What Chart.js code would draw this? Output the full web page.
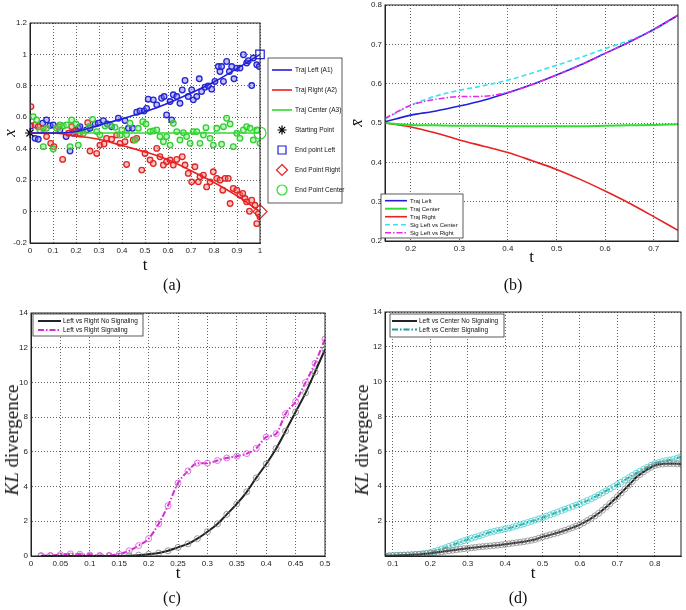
<!DOCTYPE html>
<html>
<head>
<meta charset="utf-8">
<script src="https://cdn.jsdelivr.net/npm/chart.js"></script>
<style>
  html, body { margin: 0; padding: 0; background: #fff; }
  body { width: 686px; height: 610px; position: relative; overflow: hidden; font-family: 'Liberation Serif', 'DejaVu Serif', serif; color: #111; }
  canvas { position: absolute; }
  .cap { position: absolute; font-size: 16px; transform: translate(-50%, -50%); white-space: nowrap; }
  .ylab { position: absolute; font-size: 19px; transform: translate(-50%, -50%) rotate(-90deg); white-space: nowrap; }
</style>
</head>
<body>
<canvas id="chartA" width="346" height="300" style="left:0;top:0"></canvas>
<canvas id="chartB" width="340" height="310" style="left:346px;top:-10px"></canvas>
<canvas id="chartC" width="343" height="310" style="left:0;top:300px"></canvas>
<canvas id="chartD" width="343" height="310" style="left:343px;top:300px"></canvas>
<div class="cap" style="left:172px;top:285px">(a)</div>
<div class="cap" style="left:513px;top:285px">(b)</div>
<div class="cap" style="left:172px;top:598px">(c)</div>
<div class="cap" style="left:518px;top:598px">(d)</div>
<div class="ylab" style="left:12px;top:440px"><i>KL</i> divergence</div>
<div class="ylab" style="left:362px;top:440px"><i>KL</i> divergence</div>
<script>
// ---- panel (a): noisy samples + trajectories
const aBlueT = [0.004,0.022,0.036,0.055,0.072,0.087,0.101,0.130,0.157,0.174,0.188,0.210,0.217,0.246,0.261,0.283,0.297,0.319,0.336,0.355,0.384,0.413,0.428,0.446,0.464,0.478,0.496,0.507,0.514,0.536,0.551,0.572,0.583,0.594,0.609,0.616,0.623,0.638,0.652,0.662,0.674,0.688,0.703,0.710,0.725,0.736,0.746,0.761,0.775,0.790,0.804,0.819,0.826,0.833,0.841,0.855,0.867,0.877,0.887,0.899,0.913,0.928,0.942,0.949,0.964,0.971,0.986,0.997];
const aBlueY = [0.545,0.466,0.460,0.562,0.583,0.547,0.551,0.519,0.477,0.385,0.498,0.530,0.540,0.519,0.530,0.557,0.562,0.579,0.557,0.540,0.594,0.579,0.530,0.530,0.632,0.640,0.640,0.657,0.715,0.711,0.679,0.721,0.732,0.615,0.700,0.583,0.743,0.732,0.689,0.774,0.834,0.732,0.774,0.711,0.732,0.845,0.764,0.791,0.800,0.779,0.828,0.923,0.891,0.923,0.828,0.955,0.891,0.923,0.845,0.913,0.913,0.998,0.945,0.960,0.802,0.977,0.934,0.923];
const aRedT = [0.004,0.022,0.036,0.058,0.072,0.090,0.104,0.123,0.142,0.167,0.181,0.196,0.217,0.251,0.261,0.290,0.304,0.322,0.333,0.355,0.377,0.391,0.413,0.420,0.449,0.464,0.486,0.500,0.522,0.536,0.551,0.565,0.580,0.594,0.609,0.623,0.638,0.662,0.674,0.688,0.703,0.717,0.732,0.739,0.754,0.768,0.783,0.797,0.812,0.826,0.838,0.848,0.862,0.870,0.884,0.899,0.913,0.925,0.935,0.942,0.954,0.964,0.978,0.986,0.993,1.000];
const aRedY = [0.668,0.551,0.540,0.530,0.477,0.434,0.413,0.540,0.332,0.498,0.540,0.509,0.498,0.566,0.385,0.370,0.423,0.430,0.466,0.460,0.487,0.434,0.445,0.300,0.455,0.466,0.264,0.370,0.328,0.306,0.402,0.349,0.296,0.317,0.328,0.296,0.332,0.349,0.296,0.243,0.189,0.285,0.189,0.221,0.232,0.157,0.189,0.253,0.211,0.200,0.136,0.211,0.211,0.051,0.147,0.136,0.104,0.115,0.083,0.062,0.002,0.072,0.040,-0.077,-0.013,-0.034];
const aGreenT = [0.014,0.029,0.043,0.058,0.072,0.101,0.116,0.130,0.145,0.159,0.174,0.181,0.200,0.210,0.232,0.258,0.272,0.290,0.304,0.326,0.348,0.370,0.391,0.399,0.420,0.435,0.457,0.471,0.490,0.504,0.522,0.536,0.551,0.565,0.580,0.594,0.609,0.623,0.638,0.652,0.667,0.681,0.696,0.710,0.725,0.739,0.754,0.765,0.783,0.797,0.812,0.833,0.841,0.855,0.870,0.884,0.899,0.913,0.928,0.942,0.957,0.971,0.986,1.000];
const aGreenY = [0.604,0.583,0.519,0.413,0.530,0.398,0.530,0.551,0.545,0.551,0.413,0.583,0.557,0.423,0.498,0.540,0.587,0.509,0.487,0.545,0.551,0.536,0.487,0.519,0.489,0.562,0.455,0.530,0.572,0.557,0.509,0.513,0.519,0.477,0.445,0.477,0.423,0.562,0.509,0.455,0.502,0.477,0.434,0.509,0.509,0.434,0.487,0.534,0.466,0.423,0.530,0.428,0.540,0.594,0.557,0.413,0.498,0.466,0.519,0.540,0.530,0.455,0.519,0.434];
const aTrajT = [0, 0.1, 0.2, 0.3, 0.4, 0.5, 0.6, 0.7, 0.8, 0.9, 1.0];
const aTrajLeft = [0.5, 0.5, 0.51, 0.55, 0.59, 0.635, 0.69, 0.755, 0.825, 0.91, 1.0];
const aTrajRight = [0.5, 0.5, 0.48, 0.46, 0.42, 0.38, 0.33, 0.26, 0.185, 0.1, 0.0];
const aTrajCenter = [0.5, 0.5, 0.5, 0.5, 0.5, 0.5, 0.5, 0.5, 0.5, 0.5, 0.5];
const aStart = { x: 0, y: 0.5 };
const aEndLeft = { x: 1, y: 1 };
const aEndRight = { x: 1, y: 0 };
const aEndCenter = { x: 1, y: 0.5 };
const aTicksX = [0, 0.1, 0.2, 0.3, 0.4, 0.5, 0.6, 0.7, 0.8, 0.9, 1];
const aTicksY = [-0.2, 0, 0.2, 0.4, 0.6, 0.8, 1, 1.2];

// ---- panel (b): mean trajectories
const bT = [0.147, 0.2, 0.25, 0.3, 0.35, 0.4, 0.45, 0.5, 0.55, 0.6, 0.65, 0.7, 0.75];
const bLeft = [0.503, 0.52, 0.53, 0.543, 0.558, 0.577, 0.598, 0.622, 0.648, 0.677, 0.706, 0.738, 0.774];
const bCenter = [0.5, 0.495, 0.494, 0.493, 0.493, 0.492, 0.492, 0.492, 0.492, 0.493, 0.494, 0.495, 0.497];
const bRight = [0.5, 0.49, 0.475, 0.457, 0.441, 0.425, 0.404, 0.382, 0.356, 0.327, 0.296, 0.262, 0.227];
const bSigLC = [0.51, 0.545, 0.568, 0.583, 0.595, 0.609, 0.627, 0.647, 0.667, 0.689, 0.71, 0.736, 0.774];
const bSigLR = [0.512, 0.545, 0.56, 0.567, 0.568, 0.578, 0.598, 0.622, 0.648, 0.677, 0.706, 0.738, 0.774];
const bTicksX = [0.2, 0.3, 0.4, 0.5, 0.6, 0.7];
const bTicksY = [0.2, 0.3, 0.4, 0.5, 0.6, 0.7, 0.8];

// ---- panel (c): KL left vs right
const cT = [0.017,0.033,0.05,0.067,0.083,0.1,0.117,0.133,0.15,0.167,0.183,0.2,0.217,0.233,0.25,0.267,0.283,0.3,0.317,0.333,0.35,0.367,0.383,0.4,0.417,0.433,0.45,0.467,0.483,0.5];
const cNoSig = [0,0,0,0,0,0,0,0,0,0.02,0.05,0.1,0.17,0.3,0.5,0.7,1.0,1.4,1.85,2.4,3.0,3.7,4.5,5.3,6.2,7.2,8.3,9.4,10.6,11.9];
const cSig = [0.02,0.03,0.08,0.12,0.1,0.06,0.03,0.04,0.1,0.3,0.6,1.0,1.85,2.9,4.2,4.9,5.35,5.35,5.5,5.65,5.75,5.9,6.2,6.85,7.05,8.2,8.9,10.0,11.1,12.5];
const cTicksX = [0, 0.05, 0.1, 0.15, 0.2, 0.25, 0.3, 0.35, 0.4, 0.45, 0.5];
const cTicksY = [0, 2, 4, 6, 8, 10, 12, 14];

// ---- panel (d): KL left vs center
const dT = [0.08,0.09,0.10,0.11,0.12,0.13,0.14,0.15,0.16,0.17,0.18,0.19,0.20,0.21,0.22,0.23,0.24,0.25,0.26,0.27,0.28,0.29,0.30,0.31,0.32,0.33,0.34,0.35,0.36,0.37,0.38,0.39,0.40,0.41,0.42,0.43,0.44,0.45,0.46,0.47,0.48,0.49,0.50,0.51,0.52,0.53,0.54,0.55,0.56,0.57,0.58,0.59,0.60,0.61,0.62,0.63,0.64,0.65,0.66,0.67,0.68,0.69,0.70,0.71,0.72,0.73,0.74,0.75,0.76,0.77,0.78,0.79,0.80,0.81,0.82,0.83,0.84,0.85,0.86,0.87];
const dNoSig = [0,0.01,0.02,0.03,0.04,0.05,0.06,0.07,0.08,0.09,0.11,0.13,0.15,0.18,0.21,0.24,0.27,0.30,0.33,0.36,0.39,0.42,0.44,0.47,0.49,0.52,0.54,0.56,0.58,0.60,0.62,0.645,0.67,0.70,0.73,0.76,0.79,0.82,0.86,0.90,0.95,1.02,1.10,1.15,1.21,1.27,1.33,1.40,1.47,1.55,1.63,1.71,1.80,1.91,2.03,2.16,2.30,2.45,2.63,2.81,3.00,3.20,3.40,3.62,3.84,4.06,4.28,4.50,4.67,4.83,4.97,5.09,5.20,5.25,5.28,5.30,5.30,5.30,5.29,5.27];
const dSig = [0,0.01,0.02,0.03,0.04,0.05,0.06,0.07,0.09,0.11,0.13,0.16,0.20,0.26,0.33,0.40,0.47,0.55,0.63,0.72,0.80,0.88,0.95,1.02,1.08,1.15,1.22,1.30,1.36,1.41,1.46,1.50,1.55,1.60,1.65,1.72,1.78,1.85,1.92,1.99,2.06,2.13,2.20,2.28,2.36,2.44,2.52,2.60,2.68,2.76,2.84,2.92,3.00,3.09,3.18,3.28,3.39,3.50,3.62,3.74,3.86,3.98,4.10,4.23,4.36,4.49,4.62,4.75,4.87,4.98,5.09,5.20,5.30,5.36,5.42,5.47,5.51,5.55,5.62,5.70];
const dTicksX = [0.1, 0.2, 0.3, 0.4, 0.5, 0.6, 0.7, 0.8];
const dTicksY = [2, 4, 6, 8, 10, 12, 14];

const pts = (xs, ys) => xs.map((x, i) => ({ x: x, y: ys[i] }));

const SANS = "'Liberation Sans', Arial, sans-serif";
const SERIF = "'Liberation Serif', 'DejaVu Serif', serif";

// matlab style axis with fixed tick list and fixed box size
function axis(min, max, ticks, horizontal, size, title) {
  return {
    type: 'linear',
    min: min,
    max: max,
    afterBuildTicks: (s) => { s.ticks = ticks.map(v => ({ value: v })); },
    afterFit: horizontal ? (s) => { s.height = size; } : (s) => { s.width = size; },
    grid: { color: '#3a3a3a', lineWidth: 0.8, drawTicks: false },
    border: { color: '#222', width: 1, dash: [1, 2] },
    ticks: { font: { family: SANS, size: 8 }, color: '#222', padding: 3, callback: (v) => String(+Number(v).toFixed(3)) },
    title: title || { display: false }
  };
}

function tTitle(pb) {
  return { display: true, text: 't', color: '#111', font: { family: SERIF, size: 17 }, padding: { top: 0, bottom: pb } };
}

// box around the plot area
const frame = {
  id: 'frame',
  afterDatasetsDraw(chart) {
    const { ctx, chartArea: a } = chart;
    ctx.save();
    ctx.strokeStyle = '#222';
    ctx.lineWidth = 1;
    ctx.strokeRect(a.left, a.top, a.right - a.left, a.bottom - a.top);
    ctx.restore();
  }
};

function marker(ctx, style, x, y, r) {
  ctx.beginPath();
  if (style === 'rect') {
    ctx.rect(x - r, y - r, 2 * r, 2 * r);
  } else if (style === 'rectRot') {
    ctx.moveTo(x, y - r); ctx.lineTo(x + r, y); ctx.lineTo(x, y + r); ctx.lineTo(x - r, y); ctx.closePath();
  } else if (style === 'star') {
    for (let k = 0; k < 4; k++) {
      const an = k * Math.PI / 4;
      ctx.moveTo(x - r * Math.cos(an), y - r * Math.sin(an));
      ctx.lineTo(x + r * Math.cos(an), y + r * Math.sin(an));
    }
  } else {
    ctx.arc(x, y, r, 0, Math.PI * 2);
  }
  ctx.stroke();
}

// matlab like legend box, placed by hand
const boxLegend = {
  id: 'boxLegend',
  afterDraw(chart, args, o) {
    if (!o || o.bw === undefined) return;
    const ctx = chart.ctx;
    ctx.save();
    ctx.fillStyle = '#fff';
    ctx.fillRect(o.bx, o.by, o.bw, o.bh);
    ctx.strokeStyle = '#333';
    ctx.lineWidth = 0.8;
    ctx.strokeRect(o.bx, o.by, o.bw, o.bh);
    ctx.font = o.labelFont;
    ctx.textBaseline = 'middle';
    chart.data.datasets.filter(d => d.label).forEach((d, i) => {
      const y = o.by + o.first + i * o.row;
      if (d.showLine) {
        ctx.strokeStyle = d.borderColor;
        ctx.lineWidth = d.borderWidth;
        ctx.setLineDash(d.borderDash || []);
        ctx.beginPath();
        ctx.moveTo(o.x0, y);
        ctx.lineTo(o.x1, y);
        ctx.stroke();
        ctx.setLineDash([]);
      } else {
        ctx.strokeStyle = d.pointBorderColor;
        ctx.lineWidth = d.pointBorderWidth || 1;
        marker(ctx, d.pointStyle, (o.x0 + o.x1) / 2, y, d.legendRadius);
      }
      ctx.fillStyle = '#111';
      ctx.fillText(d.label, o.tx, y + 0.5);
    });
    ctx.restore();
  }
};

function traj(label, data, color, width, dash) {
  return { label: label, data: data, showLine: true, borderColor: color, backgroundColor: color, borderWidth: width,
    borderDash: dash || [], pointRadius: 0, cubicInterpolationMode: 'monotone', fill: false };
}
function endMark(label, pt, style, color, r, lr) {
  return { label: label, data: [pt], showLine: false, pointStyle: style, pointRadius: r, pointBorderColor: color,
    pointBackgroundColor: 'rgba(0,0,0,0)', pointBorderWidth: 1.2, legendRadius: lr, clip: false };
}
function cloud(data, stroke, fill) {
  return { data: data, showLine: false, pointStyle: 'circle', pointRadius: 2.8, pointBorderWidth: 1.3,
    pointBorderColor: stroke, pointBackgroundColor: fill };
}

function baseOptions(pad, xs, ys, legend) {
  return {
    responsive: false,
    animation: false,
    layout: { padding: pad },
    scales: { x: xs, y: ys },
    plugins: { legend: { display: false }, tooltip: { enabled: false }, boxLegend: legend }
  };
}

new Chart(document.getElementById('chartA'), {
  type: 'scatter',
  data: {
    datasets: [
      traj('Traj Left (A1)', pts(aTrajT, aTrajLeft), '#2020dd', 1.6),
      traj('Traj Right (A2)', pts(aTrajT, aTrajRight), '#e82020', 1.6),
      traj('Traj Center (A3)', pts(aTrajT, aTrajCenter), '#30d830', 1.6),
      endMark('Starting Point', aStart, 'star', '#000', 5, 4.5),
      endMark('End point Left', aEndLeft, 'rect', '#2020dd', 6, 4),
      endMark('End Point Right', aEndRight, 'rectRot', '#e82020', 7, 5.5),
      endMark('End Point Center', aEndCenter, 'circle', '#30d830', 6, 5),
      cloud(pts(aGreenT, aGreenY), '#33cc33', 'rgba(120,240,120,0.45)'),
      cloud(pts(aRedT, aRedY), '#e02525', 'rgba(250,120,120,0.45)'),
      cloud(pts(aBlueT, aBlueY), '#2525d0', 'rgba(120,120,250,0.45)')
    ]
  },
  options: baseOptions({ left: 0, top: 23, right: 86, bottom: 0 },
    axis(0, 1, aTicksX, true, 57, tTitle(24)),
    axis(-0.2, 1.2, aTicksY, false, 30, { display: true, text: 'x', color: '#111', font: { family: SERIF, size: 17, style: 'italic' }, padding: { top: 0, bottom: 0 } }),
    { bx: 268, by: 58, bw: 74, bh: 145, first: 12, row: 20, x0: 272, x1: 292, tx: 295, labelFont: '6.5px ' + SANS }),
  plugins: [frame, boxLegend]
});

const bSigLRset = traj('Sig Left vs Right', pts(bT, bSigLR), '#e828e8', 1.5, [6, 2, 1.5, 2]);
bSigLRset.order = -1;
new Chart(document.getElementById('chartB'), {
  type: 'scatter',
  data: {
    datasets: [
      traj('Traj Left', pts(bT, bLeft), '#2020dd', 1.6),
      traj('Traj Center', pts(bT, bCenter), '#30dd30', 2),
      traj('Traj Right', pts(bT, bRight), '#e82020', 1.6),
      traj('Sig Left vs Center', pts(bT, bSigLC), '#38e4f0', 1.6, [5, 3]),
      bSigLRset
    ]
  },
  options: baseOptions({ left: 0, top: 15, right: 8, bottom: 0 },
    axis(0.147, 0.75, bTicksX, true, 59, tTitle(31.8)),
    axis(0.2, 0.8, bTicksY, false, 39, { display: true, text: 'x\u0304', color: '#111', font: { family: SERIF, size: 17, style: 'italic' }, padding: { top: 1.8, bottom: 0 } }),
    { bx: 35, by: 204, bw: 82, bh: 44, first: 6.7, row: 8, x0: 39, x1: 61, tx: 64, labelFont: '6px ' + SANS }),
  plugins: [frame, boxLegend]
});

new Chart(document.getElementById('chartC'), {
  type: 'scatter',
  data: {
    datasets: [
      { label: 'Left vs Right No Signaling', data: pts(cT, cNoSig), showLine: true, borderColor: '#222', borderWidth: 2,
        pointRadius: 3, pointBorderColor: 'rgba(130,130,130,0.8)', pointBackgroundColor: 'rgba(0,0,0,0)', pointBorderWidth: 1,
        cubicInterpolationMode: 'monotone' },
      { label: 'Left vs Right Signaling', data: pts(cT, cSig), showLine: true, borderColor: '#d42ad4', borderWidth: 2,
        borderDash: [6, 2, 1.5, 2], pointRadius: 3, pointBorderColor: '#e070e0', pointBackgroundColor: 'rgba(0,0,0,0)',
        pointBorderWidth: 1, cubicInterpolationMode: 'monotone' }
    ]
  },
  options: baseOptions({ left: 0, top: 13, right: 18, bottom: 0 },
    axis(0, 0.5, cTicksX, true, 54, tTitle(25.8)),
    axis(0, 14, cTicksY, false, 31),
    { bx: 33, by: 14, bw: 110, bh: 22, first: 7, row: 9, x0: 38, x1: 61, tx: 63, labelFont: '6.5px ' + SANS }),
  plugins: [frame, boxLegend]
});

new Chart(document.getElementById('chartD'), {
  type: 'scatter',
  data: {
    datasets: [
      { label: 'Left vs Center No Signaling', data: pts(dT, dNoSig), showLine: true, borderColor: '#222', borderWidth: 2,
        pointRadius: 3, pointBorderColor: 'rgba(140,140,140,0.8)', pointBackgroundColor: 'rgba(0,0,0,0)', pointBorderWidth: 1,
        cubicInterpolationMode: 'monotone' },
      { label: 'Left vs Center Signaling', data: pts(dT, dSig), showLine: true, borderColor: '#1a9a9a', borderWidth: 2,
        borderDash: [6, 2, 1.5, 2], pointRadius: 3, pointBorderColor: '#66d6d6', pointBackgroundColor: 'rgba(0,0,0,0)',
        pointBorderWidth: 1, cubicInterpolationMode: 'monotone' }
    ]
  },
  options: baseOptions({ left: 0, top: 12, right: 5, bottom: 0 },
    axis(0.079, 0.87, dTicksX, true, 54, tTitle(25.8)),
    axis(0, 14, dTicksY, false, 42),
    { bx: 47, by: 14, bw: 114, bh: 23, first: 7, row: 8.5, x0: 49, x1: 74, tx: 76, labelFont: '6.5px ' + SANS }),
  plugins: [frame, boxLegend]
});
</script>
</body>
</html>
